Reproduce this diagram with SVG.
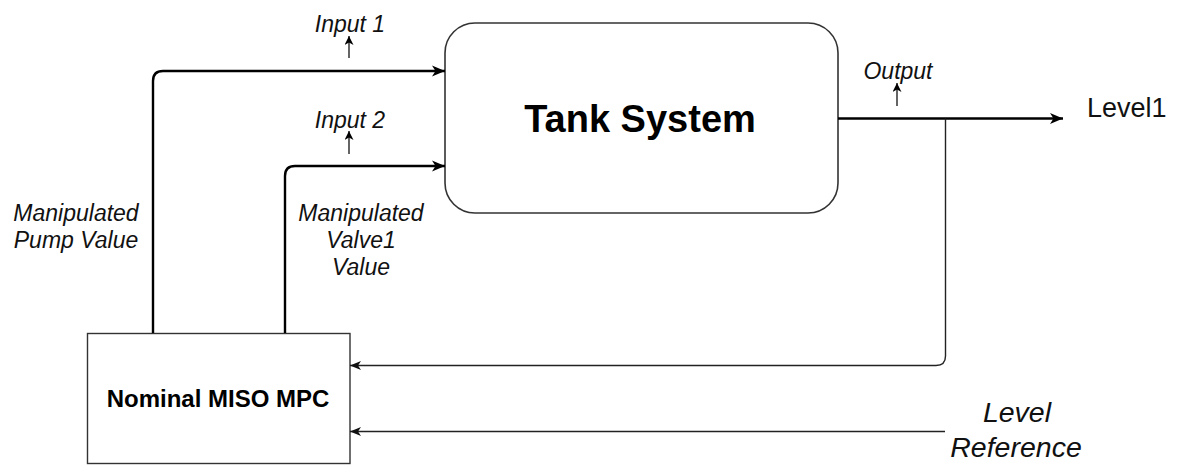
<svg xmlns="http://www.w3.org/2000/svg" width="1180" height="465" viewBox="0 0 1180 465">
<style>
.it{font-family:"Liberation Sans",Arial,sans-serif;font-style:italic;font-size:23px;fill:#111;text-anchor:middle}
.big{font-size:28.5px}
.bd{font-family:"Liberation Sans",Arial,sans-serif;font-weight:bold;fill:#000;text-anchor:middle}
.thick{fill:none;stroke:#000;stroke-width:2.4}
.thin{fill:none;stroke:#222;stroke-width:1.4}
.up{fill:none;stroke:#111;stroke-width:1.3}
</style>
<defs>
<marker id="aBig" markerUnits="userSpaceOnUse" markerWidth="14" markerHeight="12" refX="13" refY="6" orient="auto">
<path d="M0,0.5 L13,6 L0,11.5 L3.5,6 z" fill="#000"/>
</marker>
<marker id="aThin" markerUnits="userSpaceOnUse" markerWidth="12" markerHeight="10" refX="11" refY="5" orient="auto">
<path d="M0,0.5 L11,5 L0,9.5 L3,5 z" fill="#111"/>
</marker>
<marker id="aUp" markerUnits="userSpaceOnUse" markerWidth="10" markerHeight="9" refX="9" refY="4.5" orient="auto">
<path d="M0,0 L9,4.5 L0,9 L2.5,4.5 z" fill="#000"/>
</marker>
</defs>

<g id="tank">
<rect x="445" y="23" width="393" height="190" rx="30" ry="30" fill="#fff" stroke="#333" stroke-width="1.6"/>
<text class="bd" x="640" y="132" font-size="38">Tank System</text>
</g>

<g id="mpc">
<rect x="87.5" y="333.5" width="262.5" height="130" fill="#fff" stroke="#333" stroke-width="1.4"/>
<text class="bd" x="218" y="407" font-size="24">Nominal MISO MPC</text>
</g>

<g id="connectors">
<path class="thick" d="M153,333 V81 Q153,71 163,71 H445" marker-end="url(#aBig)"/>
<path class="thick" d="M285,333 V176 Q285,166 295,166 H445" marker-end="url(#aBig)"/>
<path class="thick" d="M838,118.5 H1063" marker-end="url(#aBig)"/>
<path class="thin" d="M945.5,118.5 V356 Q945.5,365.5 936,365.5 H350" marker-end="url(#aThin)"/>
<path class="thin" d="M945,431.5 H350" marker-end="url(#aThin)"/>
<path class="up" d="M349,58 V36" marker-end="url(#aUp)"/>
<path class="up" d="M349,154 V131" marker-end="url(#aUp)"/>
<path class="up" d="M897,106 V83" marker-end="url(#aUp)"/>
</g>

<g id="labels">
<text class="it" x="350" y="32">Input 1</text>
<text class="it" x="350" y="128">Input 2</text>
<text class="it" x="898" y="79">Output</text>
<text class="it" x="76" y="221">Manipulated</text>
<text class="it" x="76" y="248">Pump Value</text>
<text class="it" x="361" y="221">Manipulated</text>
<text class="it" x="361" y="248">Valve1</text>
<text class="it" x="361" y="275">Value</text>
<text x="1087" y="117" font-family="'Liberation Sans',Arial,sans-serif" font-size="27" fill="#111">Level1</text>
<text class="it big" x="1017" y="422">Level</text>
<text class="it big" x="1016" y="457">Reference</text>
</g>
</svg>
